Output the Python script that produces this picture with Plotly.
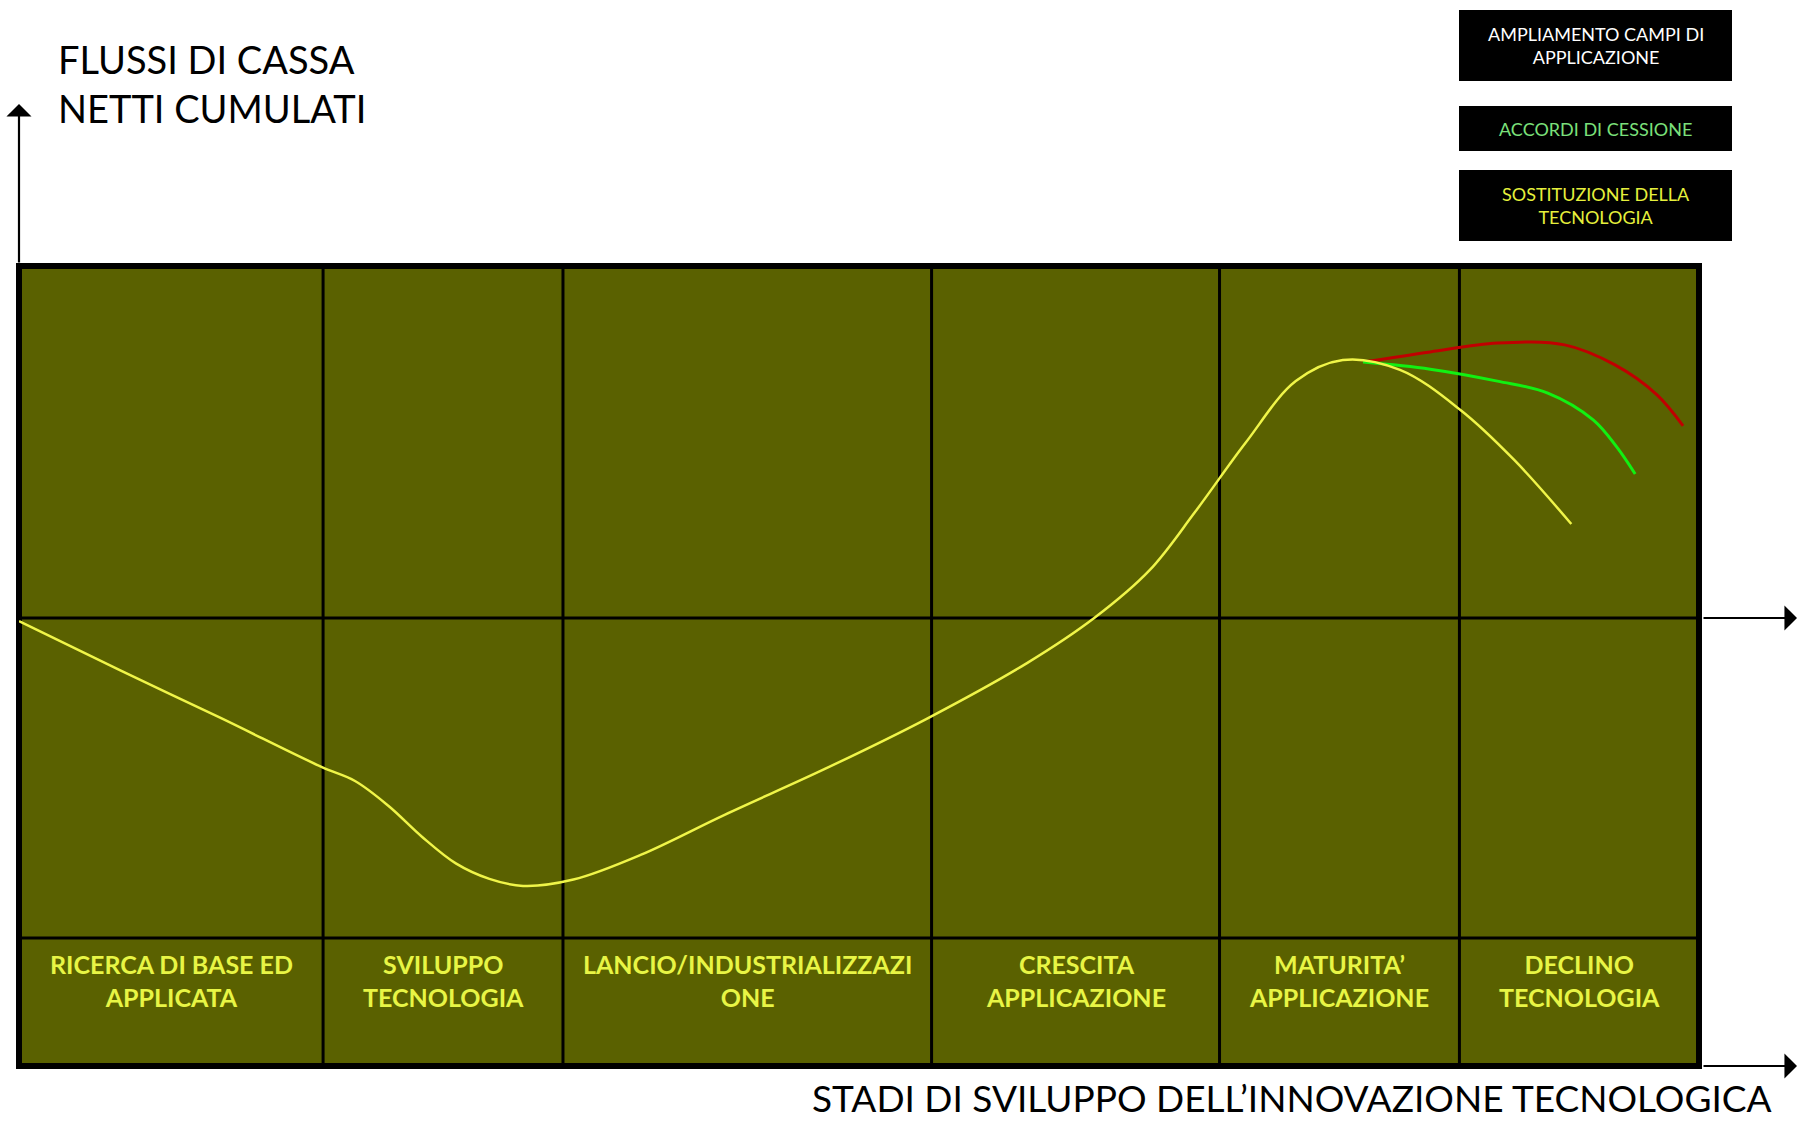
import plotly.graph_objects as go

# Stage boundaries along the horizontal span (0-100) and their labels
stage_edges = [0, 18.10, 32.38, 54.32, 71.46, 85.74, 100]
stage_labels = [
    "RICERCA DI BASE ED<br>APPLICATA",
    "SVILUPPO<br>TECNOLOGIA",
    "LANCIO/INDUSTRIALIZZAZI<br>ONE",
    "CRESCITA<br>APPLICAZIONE",
    "MATURITA’<br>APPLICAZIONE",
    "DECLINO<br>TECNOLOGIA",
]

# Cumulative net cash flow – main path (technology substitution)
main_x = [0.0, 6.0, 12.0, 18.0, 20.0, 22.0, 24.0, 26.0, 28.0, 30.0, 33.0, 37.0,
          42.0, 48.0, 54.0, 60.0, 64.0, 67.3, 70.0, 73.0, 76.0, 78.8, 82.2, 85.8,
          89.0, 92.4]
main_y = [-0.9, -14.8, -28.4, -42.3, -46.3, -53.4, -62.2, -69.7, -74.1, -76.1, -74.3, -67.3,
          -55.9, -42.8, -28.7, -12.8, 0.0, 13.6, 30.1, 49.7, 67.3, 73.3, 70.5, 59.1,
          44.9, 26.7]

# Licensing agreements branch
cess_x = [80.0, 84.0, 88.0, 91.0, 93.7, 95.1, 96.2]
cess_y = [72.7, 70.7, 67.3, 63.9, 56.3, 48.6, 40.9]

# Widening of application fields branch
ampl_x = [80.0, 84.0, 88.0, 92.0, 95.0, 97.5, 99.05]
ampl_y = [72.7, 75.6, 78.1, 77.6, 71.9, 63.4, 54.6]

legend_items = [
    ("AMPLIAMENTO CAMPI DI<br>APPLICAZIONE", "#FFFFFF"),
    ("ACCORDI DI CESSIONE", "#7BE07B"),
    ("SOSTITUZIONE DELLA<br>TECNOLOGIA", "#E6F03C"),
]

Y_TOP, Y_BOTTOM = 100, -127.27
LABEL_ROW_TOP = -90.9
LABEL_ROW_MID = -103.1

W, H = 1798, 1122
ML, MR, MT, MB = 19, 99, 266, 56
PW, PH = W - ML - MR, H - MT - MB

OLIVE = "#5A6100"
YELLOW = "#F0F548"
FONT = "Lato, sans-serif"


def px_x(p):
    return (p - ML) / PW


def px_y(p):
    return (H - MB - p) / PH


fig = go.Figure()
fig.add_trace(go.Scatter(x=ampl_x, y=ampl_y, mode="lines",
                         line=dict(color="#C00000", width=3, shape="spline", smoothing=1.0),
                         hoverinfo="skip"))
fig.add_trace(go.Scatter(x=cess_x, y=cess_y, mode="lines",
                         line=dict(color="#12F012", width=3, shape="spline", smoothing=1.0),
                         hoverinfo="skip"))
fig.add_trace(go.Scatter(x=main_x, y=main_y, mode="lines",
                         line=dict(color=YELLOW, width=2.5, shape="spline", smoothing=1.0),
                         hoverinfo="skip"))

shapes = []
# stage separators
for e in stage_edges[1:-1]:
    shapes.append(dict(type="line", xref="x", yref="y", x0=e, x1=e, y0=Y_BOTTOM, y1=Y_TOP,
                       line=dict(color="black", width=3), layer="below"))
# zero line and label row divider
for yv in (0, LABEL_ROW_TOP):
    shapes.append(dict(type="line", xref="x", yref="y", x0=0, x1=100, y0=yv, y1=yv,
                       line=dict(color="black", width=3), layer="below"))
# outer frame
shapes.append(dict(type="rect", xref="paper", yref="paper", x0=0, x1=1, y0=0, y1=1,
                   line=dict(color="black", width=6), layer="below"))

# legend boxes
box_rows = [(10, 81), (106, 151), (170, 241)]
bx0, bx1 = 1459, 1732
annotations = []
for (top, bot), (txt, col) in zip(box_rows, legend_items):
    shapes.append(dict(type="rect", xref="paper", yref="paper",
                       x0=px_x(bx0), x1=px_x(bx1), y0=px_y(bot), y1=px_y(top),
                       fillcolor="black", line=dict(width=0), layer="above"))
    annotations.append(dict(xref="paper", yref="paper", x=px_x((bx0 + bx1) / 2),
                            y=px_y((top + bot) / 2), text=txt, showarrow=False,
                            xanchor="center", yanchor="middle", align="center",
                            font=dict(family=FONT, size=18, color=col)))

# stage labels
for i, lab in enumerate(stage_labels):
    annotations.append(dict(xref="x", yref="y", x=(stage_edges[i] + stage_edges[i + 1]) / 2,
                            y=LABEL_ROW_MID, text="<b>" + lab + "</b>", showarrow=False,
                            xanchor="center", yanchor="middle", align="center",
                            font=dict(family=FONT, size=25, color="#E8F545")))

# axis titles
annotations.append(dict(xref="paper", yref="paper", x=px_x(56), y=px_y(83),
                        text="FLUSSI DI CASSA<br>NETTI CUMULATI", showarrow=False,
                        xanchor="left", yanchor="middle", align="left",
                        font=dict(family=FONT, size=38, color="black")))
annotations.append(dict(xref="paper", yref="paper", x=px_x(1774), y=px_y(1122),
                        text="STADI DI SVILUPPO DELL’INNOVAZIONE TECNOLOGICA", showarrow=False,
                        xanchor="right", yanchor="bottom", align="right",
                        font=dict(family=FONT, size=37, color="black")))

# axis arrows
annotations.append(dict(xref="paper", yref="paper", x=0, y=px_y(104), ax=0, ay=160,
                        text="", showarrow=True, arrowhead=1, arrowsize=1.9,
                        arrowwidth=2.2, arrowcolor="black", standoff=0))
for yp in (618, 1066):
    annotations.append(dict(xref="paper", yref="paper", x=px_x(1812), y=px_y(yp), ax=-110, ay=0,
                            text="", showarrow=True, arrowhead=1, arrowsize=1.9,
                            arrowwidth=2.2, arrowcolor="black", standoff=0))

fig.update_layout(
    width=W, height=H,
    margin=dict(l=ML, r=MR, t=MT, b=MB),
    paper_bgcolor="white", plot_bgcolor=OLIVE,
    showlegend=False,
    xaxis=dict(range=[0, 100], visible=False, fixedrange=True),
    yaxis=dict(range=[Y_BOTTOM, Y_TOP], visible=False, fixedrange=True),
    shapes=shapes, annotations=annotations,
)

fig.write_html("out.html")
